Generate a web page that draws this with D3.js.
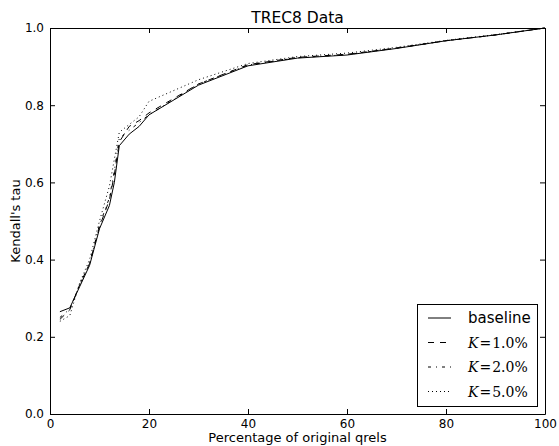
<!DOCTYPE html>
<html>
<head>
<meta charset="utf-8">
<script src="https://cdn.jsdelivr.net/npm/d3@7"></script>
<style>
  body { margin: 0; background: #fff; }
  text { font-family: "DejaVu Sans", sans-serif; fill: #000; }
</style>
</head>
<body>
<div id="chart"></div>
<script>
// percentage of original qrels
var pcts = [2, 4, 6, 8, 10, 12, 13, 14, 16, 18, 20, 30, 40, 50, 60, 70, 80, 90, 100];
var baseline = [0.265, 0.275, 0.33, 0.385, 0.48, 0.54, 0.60, 0.695, 0.725, 0.745, 0.775, 0.852, 0.902, 0.922, 0.930, 0.947, 0.967, 0.982, 1.0];
var k1 = [0.245, 0.27, 0.335, 0.39, 0.485, 0.555, 0.62, 0.705, 0.745, 0.76, 0.78, 0.855, 0.905, 0.924, 0.932, 0.948, 0.967, 0.982, 1.0];
var k2 = [0.25, 0.272, 0.335, 0.39, 0.49, 0.56, 0.63, 0.715, 0.735, 0.755, 0.775, 0.855, 0.904, 0.923, 0.931, 0.948, 0.967, 0.982, 1.0];
var k5 = [0.24, 0.255, 0.34, 0.40, 0.50, 0.59, 0.66, 0.73, 0.75, 0.77, 0.81, 0.866, 0.908, 0.926, 0.935, 0.95, 0.968, 0.983, 1.0];
var seriesNames = ["baseline", "K=1.0%", "K=2.0%", "K=5.0%"];
var xTicks = [0, 20, 40, 60, 80, 100];
var yTicks = [0.0, 0.2, 0.4, 0.6, 0.8, 1.0];

var width = 559, height = 446;
var margin = {left: 50, right: 14, top: 28, bottom: 32};

var svg = d3.select("#chart").append("svg")
    .attr("width", width)
    .attr("height", height);

var x = d3.scaleLinear().domain([0, 100]).range([margin.left, width - margin.right]);
var y = d3.scaleLinear().domain([0, 1]).range([height - margin.bottom, margin.top]);

var styles = [
    {data: baseline, dash: null},
    {data: k1, dash: "6,6"},
    {data: k2, dash: "3,5,1,5"},
    {data: k5, dash: "1,3"}
];

var line = d3.line()
    .x(function (d) { return x(d[0]); })
    .y(function (d) { return y(d[1]); });

styles.forEach(function (s) {
    svg.append("path")
        .datum(pcts.map(function (p, i) { return [p, s.data[i]]; }))
        .attr("fill", "none")
        .attr("stroke", "#000")
        .attr("stroke-width", 1)
        .attr("stroke-dasharray", s.dash)
        .attr("d", line);
});

// axes frame with inward ticks on all four sides
var axisB = d3.axisBottom(x).tickValues(xTicks).tickSizeInner(-5).tickSizeOuter(0).tickPadding(5);
var axisL = d3.axisLeft(y).tickValues(yTicks).tickSizeInner(-5).tickSizeOuter(0).tickPadding(6).tickFormat(d3.format(".1f"));
var axisT = d3.axisTop(x).tickValues(xTicks).tickSizeInner(-5).tickSizeOuter(0).tickFormat("");
var axisR = d3.axisRight(y).tickValues(yTicks).tickSizeInner(-5).tickSizeOuter(0).tickFormat("");

function styleAxis(g) {
    g.selectAll("path").attr("stroke", "#000").attr("stroke-width", 1);
    g.selectAll("line").attr("stroke", "#000");
    g.selectAll("text").style("font-family", "DejaVu Sans").style("font-size", "12px").attr("fill", "#000");
}

svg.append("g").attr("transform", "translate(0," + y(0) + ")").call(axisB).call(styleAxis);
svg.append("g").attr("transform", "translate(" + x(0) + ",0)").call(axisL).call(styleAxis);
svg.append("g").attr("transform", "translate(0," + y(1) + ")").call(axisT).call(styleAxis);
svg.append("g").attr("transform", "translate(" + x(100) + ",0)").call(axisR).call(styleAxis);

// title and labels
svg.append("text")
    .attr("x", (x(0) + x(100)) / 2).attr("y", 23)
    .attr("text-anchor", "middle")
    .style("font-size", "15.5px")
    .text("TREC8 Data");

svg.append("text")
    .attr("x", (x(0) + x(100)) / 2).attr("y", 442)
    .attr("text-anchor", "middle")
    .style("font-size", "13px")
    .text("Percentage of original qrels");

svg.append("text")
    .attr("transform", "translate(20," + (y(0) + y(1)) / 2 + ") rotate(-90)")
    .attr("text-anchor", "middle")
    .style("font-size", "13px")
    .text("Kendall's tau");

// legend
var lg = svg.append("g");
lg.append("rect")
    .attr("x", 417.5).attr("y", 304.5)
    .attr("width", 120).attr("height", 102)
    .attr("fill", "#fff").attr("stroke", "#000").attr("stroke-width", 1);

styles.forEach(function (s, i) {
    var ly = 318 + i * 24.5;
    lg.append("line")
        .attr("x1", 428).attr("x2", 451)
        .attr("y1", ly).attr("y2", ly)
        .attr("stroke", "#000").attr("stroke-width", 1)
        .attr("stroke-dasharray", s.dash);
    var t = lg.append("text")
        .attr("x", 468).attr("y", ly + 5)
        .style("font-size", "15px");
    if (i === 0) {
        t.text(seriesNames[0]);
    } else {
        var parts = seriesNames[i].split("=");
        t.style("font-family", "DejaVu Serif").style("font-size", "14px");
        t.append("tspan").style("font-style", "italic").text(parts[0]);
        t.append("tspan").attr("dx", 1).text("=");
        t.append("tspan").attr("dx", 1).text(parts[1]);
    }
});
</script>
</body>
</html>
